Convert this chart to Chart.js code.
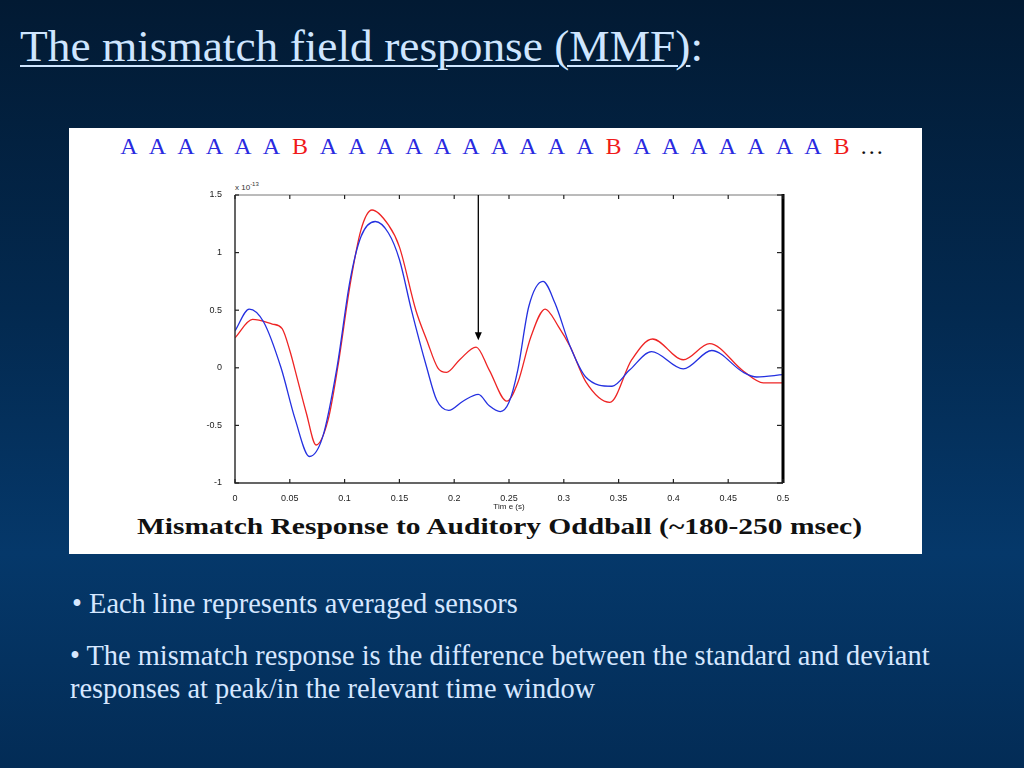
<!DOCTYPE html>
<html>
<head>
<meta charset="utf-8">
<script src="https://cdn.jsdelivr.net/npm/chart.js"></script>
<style>
html, body { margin: 0; padding: 0; }
body {
    width: 1024px; height: 768px; overflow: hidden; position: relative;
    background: linear-gradient(180deg, #021a33 0%, #03294f 40%, #05386a 72%, #032c56 100%);
    font-family: "Liberation Serif", "Times New Roman", serif;
}
#title {
    position: absolute; left: 20px; top: 24px; font-size: 45px; line-height: 1;
    color: #cfe6ff; white-space: nowrap; transform-origin: left top;
}
#title u { text-decoration-thickness: 2px; text-underline-offset: 4px; }
#panel { position: absolute; left: 69px; top: 128px; width: 853px; height: 426px; background: #fff; }
#seq { position: absolute; left: 114.75px; top: 134px; display: flex; font-size: 24px; line-height: 1; }
#seq span { width: 28.5px; text-align: center; color: #2a2ae0; }
#seq span.b { color: #f01a1a; }
#seq span.dots { color: #111; width: 32px; }
#caption {
    position: absolute; left: 137px; top: 514px; font-size: 24px; line-height: 1; font-weight: bold;
    color: #111; white-space: nowrap; transform-origin: left top;
}
#expo { position: absolute; left: 235px; top: 181px; font: 8px "Liberation Sans", Arial, sans-serif; color: #333; }
#expo sup { font-size: 6px; }
#myChart { position: absolute; left: 185px; top: 180px; }
.bullet { position: absolute; left: 72px; color: #d6e7ff; font-size: 28.4px; white-space: nowrap; }
</style>
</head>
<body>
<div id="title"><u>The mismatch field response (MMF)</u>:</div>
<div id="panel"></div>
<div id="seq"></div>
<div id="expo">x 10<sup>-13</sup></div>
<canvas id="myChart" width="620" height="332"></canvas>
<div id="caption">Mismatch Response to Auditory Oddball (~180-250 msec)</div>
<div class="bullet" style="top:590px; line-height:28px;">• Each line represents averaged sensors</div>
<div class="bullet" style="top:639px; left:70px; line-height:33px;">• The mismatch response is the difference between the standard and deviant<br>responses at peak/in the relevant time window</div>

<script>
// sequence of tones shown above the plot
const sequence = 'AAAAAABAAAAAAAAAABAAAAAAAB'.split('');

// standard (blue) and deviant (red) responses, time in seconds, field x 1e-13
const blueTime = [0, 0.013, 0.026, 0.042, 0.055, 0.068, 0.08, 0.093, 0.105, 0.115, 0.128, 0.14, 0.15, 0.161, 0.175, 0.184, 0.195, 0.208, 0.222, 0.232, 0.242, 0.25, 0.258, 0.268, 0.281, 0.292, 0.306, 0.32, 0.344, 0.36, 0.38, 0.409, 0.435, 0.464, 0.476, 0.5];
const blueValues = [0.32, 0.51, 0.40, 0.0, -0.45, -0.77, -0.6, 0.0, 0.76, 1.14, 1.27, 1.17, 0.94, 0.5, 0.0, -0.28, -0.37, -0.29, -0.23, -0.33, -0.38, -0.3, -0.02, 0.53, 0.75, 0.56, 0.18, -0.08, -0.16, -0.02, 0.14, -0.01, 0.15, -0.04, -0.08, -0.06];

const redTime = [0, 0.016, 0.034, 0.043, 0.05, 0.057, 0.065, 0.074, 0.085, 0.094, 0.105, 0.115, 0.125, 0.14, 0.15, 0.165, 0.175, 0.185, 0.193, 0.205, 0.22, 0.232, 0.248, 0.258, 0.27, 0.283, 0.295, 0.306, 0.32, 0.342, 0.362, 0.381, 0.409, 0.433, 0.464, 0.482, 0.5];
const redValues = [0.26, 0.42, 0.38, 0.34, 0.15, -0.1, -0.39, -0.67, -0.45, 0.02, 0.72, 1.2, 1.37, 1.24, 1.05, 0.5, 0.24, 0.0, -0.04, 0.07, 0.18, -0.02, -0.29, -0.13, 0.27, 0.51, 0.36, 0.18, -0.12, -0.3, 0.07, 0.25, 0.07, 0.21, -0.03, -0.13, -0.13];

// arrow marking the mismatch
const arrowTime = 0.222;
const arrowFrom = 1.5;
const arrowTo = 0.24;

const seqBox = document.getElementById('seq');
sequence.forEach(function(ch) {
    let s = document.createElement('span');
    s.textContent = ch;
    if (ch === 'B') s.className = 'b';
    seqBox.appendChild(s);
});
let dots = document.createElement('span');
dots.className = 'dots';
dots.textContent = '…';
seqBox.appendChild(dots);

function fitWidth(id, target) {
    let el = document.getElementById(id);
    let w = el.getBoundingClientRect().width;
    el.style.transform = 'scaleX(' + (target / w) + ')';
}
fitWidth('caption', 725);
fitWidth('title', 683);

// matlab style box with inward ticks and the arrow
const frame = {
    id: 'frame',
    afterDraw(chart) {
        const c = chart.ctx, a = chart.chartArea;
        const xs = chart.scales.x, ys = chart.scales.y;
        c.save();
        c.strokeStyle = '#777';
        c.lineWidth = 1;
        c.beginPath(); c.moveTo(a.left, a.top); c.lineTo(a.right, a.top); c.stroke();
        c.strokeStyle = '#333';
        c.lineWidth = 1.5;
        c.beginPath(); c.moveTo(a.left, a.top); c.lineTo(a.left, a.bottom); c.lineTo(a.right, a.bottom); c.stroke();
        c.strokeStyle = '#000';
        c.lineWidth = 3;
        c.beginPath(); c.moveTo(a.right, a.top - 1); c.lineTo(a.right, a.bottom); c.stroke();
        c.lineWidth = 1.2;
        c.strokeStyle = '#222';
        xs.ticks.forEach(function(t) {
            let px = xs.getPixelForValue(t.value);
            c.beginPath(); c.moveTo(px, a.bottom); c.lineTo(px, a.bottom - 4); c.stroke();
            c.beginPath(); c.moveTo(px, a.top); c.lineTo(px, a.top + 4); c.stroke();
        });
        ys.ticks.forEach(function(t) {
            let py = ys.getPixelForValue(t.value);
            c.beginPath(); c.moveTo(a.left, py); c.lineTo(a.left + 4, py); c.stroke();
            c.beginPath(); c.moveTo(a.right, py); c.lineTo(a.right - 6, py); c.stroke();
        });
        // arrow
        let ax = xs.getPixelForValue(arrowTime);
        let y1 = ys.getPixelForValue(arrowFrom), y2 = ys.getPixelForValue(arrowTo);
        c.strokeStyle = '#000';
        c.fillStyle = '#000';
        c.lineWidth = 1.3;
        c.beginPath(); c.moveTo(ax, y1); c.lineTo(ax, y2 - 6); c.stroke();
        c.beginPath(); c.moveTo(ax - 3.5, y2 - 8); c.lineTo(ax + 3.5, y2 - 8); c.lineTo(ax, y2); c.closePath(); c.fill();
        c.restore();
    }
};

function toPoints(ts, vs) {
    return ts.map(function(t, i) { return { x: t, y: vs[i] }; });
}

const ctx = document.getElementById('myChart').getContext('2d');
let chart = new Chart(ctx, {
    type: 'line',
    data: {
        datasets: [{
            label: 'Standard',
            data: toPoints(blueTime, blueValues),
            borderColor: '#2430e0',
            borderWidth: 1.3,
            pointRadius: 0,
            cubicInterpolationMode: 'monotone'
        }, {
            label: 'Deviant',
            data: toPoints(redTime, redValues),
            borderColor: '#ee2424',
            borderWidth: 1.3,
            pointRadius: 0,
            cubicInterpolationMode: 'monotone'
        }]
    },
    options: {
        responsive: false,
        animation: false,
        layout: { padding: { top: 15, right: 22, left: 0, bottom: 0 } },
        plugins: { legend: { display: false }, tooltip: { enabled: false } },
        scales: {
            x: {
                type: 'linear', min: 0, max: 0.5,
                grid: { display: false }, border: { display: false },
                ticks: {
                    stepSize: 0.05, padding: 2, color: '#222', maxRotation: 0,
                    font: { family: 'Liberation Sans', size: 9 },
                    callback: function(v) { return +v.toFixed(2); }
                },
                title: { display: true, text: 'Tim e (s)', color: '#222', padding: 0, font: { family: 'Liberation Sans', size: 8 } },
                afterFit: function(s) { s.height = 29; }
            },
            y: {
                min: -1, max: 1.5,
                grid: { display: false }, border: { display: false },
                ticks: {
                    stepSize: 0.5, padding: 5, color: '#222',
                    font: { family: 'Liberation Sans', size: 9 },
                    callback: function(v) { return +v.toFixed(1); }
                },
                afterFit: function(s) { s.width = 50; }
            }
        }
    },
    plugins: [frame]
});
</script>
</body>
</html>
